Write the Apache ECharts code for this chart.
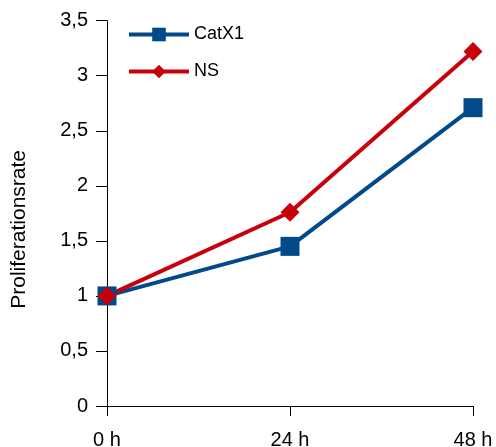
<!DOCTYPE html>
<html>
<head>
<meta charset="utf-8">
<script src="https://cdn.jsdelivr.net/npm/echarts@6/dist/echarts.min.js"></script>
<style>html,body{margin:0;padding:0;background:#fff}#c{width:496px;height:447px}</style>
</head>
<body>
<div id="c"></div>
<script>
var categories = ['0 h', '24 h', '48 h'];
var catX1 = [1, 1.45, 2.71];
var ns = [1, 1.76, 3.22];
var seriesNames = ['CatX1', 'NS'];
var yTitle = 'Proliferationsrate';

var FONT = '"Liberation Sans", Arial, sans-serif';
var chart = echarts.init(document.getElementById('c'), null, {renderer: 'canvas'});
chart.setOption({
  animation: false,
  backgroundColor: '#fff',
  textStyle: {fontFamily: FONT},
  grid: {left: 107, right: 23, top: 20.7, bottom: 41, containLabel: false, outerBoundsMode: 'none'},
  legend: {
    orient: 'vertical', left: 127, top: 25.5, padding: 0, itemWidth: 60, itemHeight: 17, itemGap: 19,
    lineStyle: {width: 4},
    textStyle: {fontSize: 18, color: '#000', fontFamily: FONT},
    data: seriesNames
  },
  xAxis: {
    type: 'category', data: categories, boundaryGap: false,
    axisLine: {lineStyle: {color: '#000', width: 1}},
    axisTick: {length: 10, lineStyle: {color: '#000'}},
    axisLabel: {margin: 24, fontSize: 20, color: '#000', fontFamily: FONT, verticalAlign: 'top'},
    splitLine: {show: false}
  },
  yAxis: {
    type: 'value', min: 0, max: 3.5, interval: 0.5,
    name: yTitle, nameLocation: 'middle', nameGap: 77, nameRotate: 90,
    nameTextStyle: {fontSize: 21, color: '#000', fontFamily: FONT, padding: [0, 32, 0, 0]},
    axisLine: {show: true, lineStyle: {color: '#000', width: 1}},
    axisTick: {show: true, length: 11, lineStyle: {color: '#000'}},
    axisLabel: {margin: 19, fontSize: 20, color: '#000', fontFamily: FONT,
      formatter: function (v) { return String(v).replace('.', ','); }},
    splitLine: {show: false}
  },
  series: [
    {name: seriesNames[0], type: 'line', data: catX1, symbol: 'rect', symbolSize: 19,
     color: '#004a8c', lineStyle: {width: 4, color: '#004a8c'}, itemStyle: {color: '#004a8c'}},
    {name: seriesNames[1], type: 'line', data: ns, symbol: 'diamond', symbolSize: 19,
     color: '#c8000b', lineStyle: {width: 4, color: '#c8000b'}, itemStyle: {color: '#c8000b'}}
  ]
});
</script>
</body>
</html>
